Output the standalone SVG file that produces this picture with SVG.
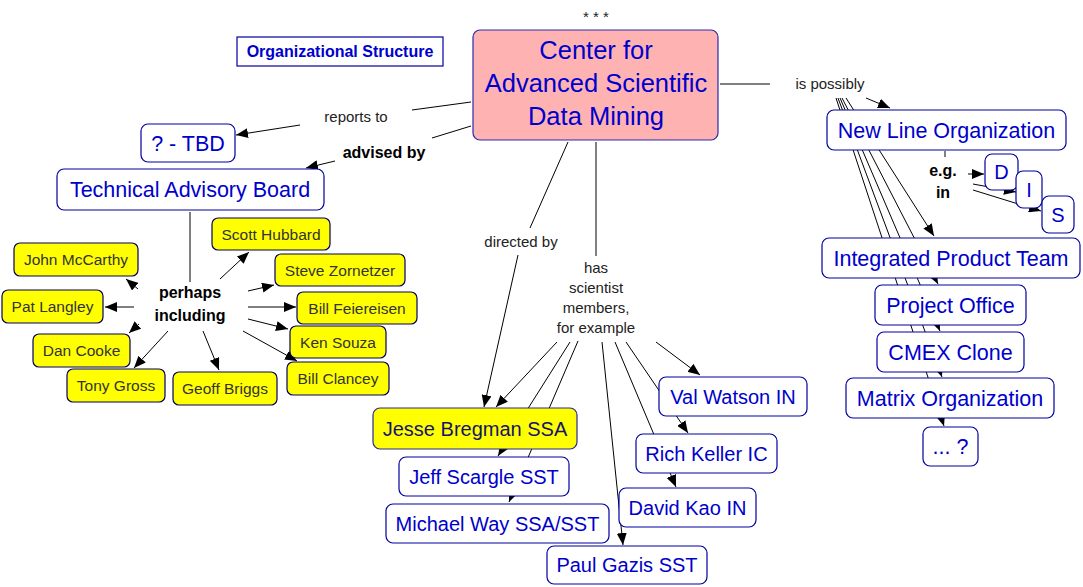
<svg xmlns="http://www.w3.org/2000/svg" width="1083" height="587" viewBox="0 0 1083 587">
<style>
.c{stroke:#000;stroke-width:1;fill:none}
.a{marker-end:url(#arr)}
.box{fill:#fff;stroke:#0000A0;stroke-width:1.2}
.ybox{fill:#FFFF00;stroke:#000060;stroke-width:1.2}
.t{font-family:"Liberation Sans",Arial,sans-serif;text-anchor:middle;fill:#0000CC}
.big{font-size:21.5px}
.mem{font-size:20px}
.yt{font-family:"Liberation Sans",Arial,sans-serif;text-anchor:middle;fill:#333;font-size:15.5px}
.lab{font-family:"Liberation Sans",Arial,sans-serif;text-anchor:middle;fill:#222;font-size:15px}
.blab{font-family:"Liberation Sans",Arial,sans-serif;text-anchor:middle;fill:#000;font-size:16px;font-weight:bold}
</style>
<defs>
<marker id="arr" viewBox="0 0 12 10" refX="12" refY="5" markerWidth="12" markerHeight="10" markerUnits="userSpaceOnUse" orient="auto">
<path d="M0,0 L12,5 L0,10 z" fill="#000"/>
</marker>
</defs>
<rect width="1083" height="587" fill="#fff"/>
<g id="connectors">
<line class="c" x1="471" y1="102" x2="412" y2="110"/>
<line class="c a" x1="300" y1="125" x2="236" y2="135"/>
<line class="c" x1="471" y1="126" x2="432" y2="138"/>
<line class="c a" x1="335" y1="161" x2="306" y2="168"/>
<line class="c" x1="190" y1="212" x2="190" y2="282"/>
<line class="c a" x1="220" y1="279" x2="249" y2="252"/>
<line class="c a" x1="138" y1="289" x2="126" y2="279"/>
<line class="c a" x1="134" y1="307" x2="105" y2="307"/>
<line class="c a" x1="139" y1="324" x2="129" y2="333"/>
<line class="c a" x1="168" y1="331" x2="134" y2="368"/>
<line class="c a" x1="203" y1="331" x2="219" y2="370"/>
<line class="c a" x1="248" y1="291" x2="274" y2="285"/>
<line class="c a" x1="248" y1="307" x2="296" y2="307"/>
<line class="c a" x1="248" y1="319" x2="288" y2="329"/>
<line class="c a" x1="243" y1="331" x2="297" y2="361"/>
<line class="c" x1="568" y1="142" x2="530" y2="228"/>
<line class="c a" x1="518" y1="255" x2="484" y2="407"/>
<line class="c" x1="596" y1="142" x2="596" y2="256"/>
<line class="c a" x1="557" y1="342" x2="496" y2="407"/>
<line class="c a" x1="570" y1="342" x2="498" y2="456"/>
<line class="c a" x1="578" y1="341" x2="509" y2="502"/>
<line class="c a" x1="602" y1="342" x2="623" y2="545"/>
<line class="c a" x1="615" y1="342" x2="676" y2="487"/>
<line class="c a" x1="626" y1="342" x2="688" y2="433"/>
<line class="c a" x1="656" y1="342" x2="700" y2="375"/>
<line class="c" x1="720" y1="84" x2="770" y2="84"/>
<line class="c a" x1="866" y1="98" x2="890" y2="108"/>
<line class="c a" x1="846" y1="98" x2="934" y2="236"/>
<line class="c a" x1="842" y1="98" x2="938" y2="284"/>
<line class="c a" x1="840" y1="98" x2="940" y2="331"/>
<line class="c a" x1="838" y1="98" x2="942" y2="377"/>
<line class="c a" x1="836" y1="98" x2="944" y2="426"/>
<line class="c" x1="945" y1="151" x2="945" y2="157"/>
<line class="c a" x1="968" y1="174" x2="984" y2="174"/>
<line class="c a" x1="973" y1="184" x2="1016" y2="192"/>
<line class="c a" x1="973" y1="190" x2="1041" y2="211"/>
</g>
<g id="labels">
<text class="lab" x="596" y="22" font-size="13">* * *</text>
<text class="lab" x="356" y="122">reports to</text>
<text class="blab" x="384" y="158">advised by</text>
<text class="blab" x="190" y="298">perhaps</text>
<text class="blab" x="190" y="321">including</text>
<text class="lab" x="521" y="247">directed by</text>
<text class="lab" x="596" y="273">has</text>
<text class="lab" x="596" y="293">scientist</text>
<text class="lab" x="596" y="313">members,</text>
<text class="lab" x="596" y="333">for example</text>
<text class="lab" x="830" y="89">is possibly</text>
<text class="blab" x="943" y="176">e.g.</text>
<text class="blab" x="943" y="198">in</text>
</g>
<g id="org"><rect x="237" y="37" width="206" height="29" fill="#fff" stroke="#0000A0" stroke-width="1.2"/><text class="t" x="340" y="57" font-size="16" font-weight="bold">Organizational Structure</text></g>
<g id="center"><rect x="473" y="30" width="245" height="110" rx="7" fill="#FFB2B2" stroke="#2a2ab0" stroke-width="1.2"/>
<text class="t" x="596" y="59" font-size="25.5">Center for</text>
<text class="t" x="596" y="92" font-size="25.5">Advanced Scientific</text>
<text class="t" x="596" y="125" font-size="25.5">Data Mining</text></g>
<g id="tbd"><rect class="box" x="141" y="124" width="94" height="38" rx="7"/><text class="t big" x="188" y="151">? - TBD</text></g>
<g id="tab"><rect class="box" x="57" y="169" width="267" height="41" rx="7"/><text class="t big" x="190" y="197">Technical Advisory Board</text></g>
<g id="scott"><rect class="ybox" x="212" y="218" width="118" height="32" rx="6"/><text class="yt" x="271" y="239.5">Scott Hubbard</text></g>
<g id="mccarthy"><rect class="ybox" x="14" y="243" width="124" height="33" rx="6"/><text class="yt" x="76" y="265">John McCarthy</text></g>
<g id="zornetzer"><rect class="ybox" x="275" y="254" width="130" height="32" rx="6"/><text class="yt" x="340" y="275.5">Steve Zornetzer</text></g>
<g id="langley"><rect class="ybox" x="2" y="290" width="101" height="33" rx="6"/><text class="yt" x="52.5" y="312">Pat Langley</text></g>
<g id="feiereisen"><rect class="ybox" x="297" y="292" width="120" height="32" rx="6"/><text class="yt" x="357" y="313.5">Bill Feiereisen</text></g>
<g id="souza"><rect class="ybox" x="290" y="326" width="96" height="32" rx="6"/><text class="yt" x="338" y="347.5">Ken Souza</text></g>
<g id="cooke"><rect class="ybox" x="33" y="334" width="97" height="33" rx="6"/><text class="yt" x="81.5" y="356">Dan Cooke</text></g>
<g id="gross"><rect class="ybox" x="67" y="369" width="98" height="33" rx="6"/><text class="yt" x="116" y="391">Tony Gross</text></g>
<g id="briggs"><rect class="ybox" x="173" y="372" width="104" height="33" rx="6"/><text class="yt" x="225" y="394">Geoff Briggs</text></g>
<g id="clancey"><rect class="ybox" x="287" y="362" width="102" height="33" rx="6"/><text class="yt" x="338" y="384">Bill Clancey</text></g>
<g id="jesse"><rect x="373" y="408" width="204" height="41" rx="7" fill="#FFFF00" stroke="#2a2a90" stroke-width="1.2"/><text class="t mem" x="475" y="435.5" style="fill:#14146e">Jesse Bregman SSA</text></g>
<g id="jeff"><rect class="box" x="399" y="457" width="170" height="39" rx="7"/><text class="t mem" x="484" y="483.5">Jeff Scargle SST</text></g>
<g id="michael"><rect class="box" x="386" y="504" width="223" height="39" rx="7"/><text class="t mem" x="497.5" y="530.5">Michael Way SSA/SST</text></g>
<g id="paul"><rect class="box" x="547" y="546" width="160" height="38" rx="7"/><text class="t mem" x="627" y="572">Paul Gazis SST</text></g>
<g id="david"><rect class="box" x="619" y="488" width="137" height="39" rx="7"/><text class="t mem" x="687.5" y="514.5">David Kao IN</text></g>
<g id="rich"><rect class="box" x="636" y="434" width="141" height="39" rx="7"/><text class="t mem" x="706.5" y="460.5">Rich Keller IC</text></g>
<g id="val"><rect class="box" x="659" y="377" width="148" height="39" rx="7"/><text class="t mem" x="733" y="403.5">Val Watson IN</text></g>
<g id="nlo"><rect class="box" x="827" y="110" width="239" height="40" rx="7"/><text class="t big" x="946.5" y="137.5">New Line Organization</text></g>
<g id="d"><rect class="box" x="985" y="154" width="33" height="36" rx="7"/><text class="t mem" x="1001.5" y="179">D</text></g>
<g id="i"><rect class="box" x="1016" y="171" width="26" height="37" rx="7"/><text class="t mem" x="1029" y="197">I</text></g>
<g id="s"><rect class="box" x="1042" y="196" width="32" height="37" rx="7"/><text class="t mem" x="1058" y="222">S</text></g>
<g id="ipt"><rect class="box" x="822" y="238" width="258" height="40" rx="7"/><text class="t big" x="951" y="265.5">Integrated Product Team</text></g>
<g id="po"><rect class="box" x="875" y="285" width="151" height="40" rx="7"/><text class="t big" x="950.5" y="312.5">Project Office</text></g>
<g id="cmex"><rect class="box" x="877" y="332" width="147" height="40" rx="7"/><text class="t big" x="950.5" y="359.5">CMEX Clone</text></g>
<g id="matrix"><rect class="box" x="846" y="378" width="208" height="40" rx="7"/><text class="t big" x="950" y="405.5">Matrix Organization</text></g>
<g id="more"><rect class="box" x="923" y="427" width="55" height="39" rx="7"/><text class="t big" x="950.5" y="454">... ?</text></g>
</svg>
